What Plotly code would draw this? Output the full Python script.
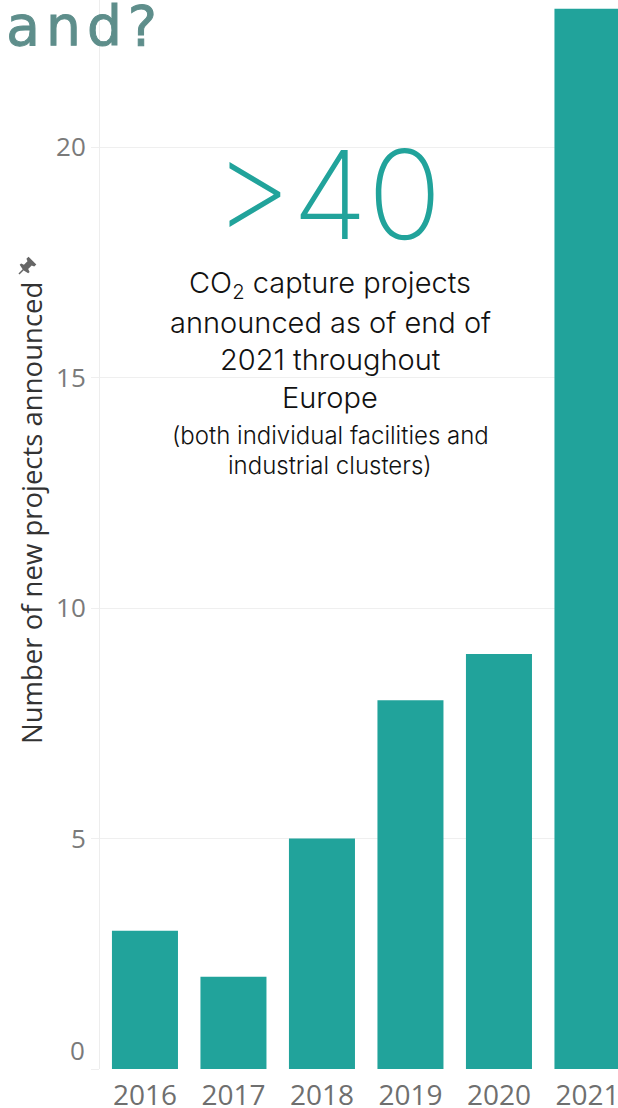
import math
import plotly.graph_objects as go

years = ["2016", "2017", "2018", "2019", "2020", "2021"]
projects = [3, 2, 5, 8, 9, 23]
y_ticks = [0, 5, 10, 15, 20]
y_tick_text = ["", "5", "10", "15", "20"]

W, H = 618, 1108
ML, MB = 100, 39
PLOT_H = H - MB

BAR = "#21A39B"
TEAL_TITLE = "#5E8E8B"

def py(p):
    # pixel y (from top) -> paper y
    return (PLOT_H - p) / PLOT_H

def px(p):
    return (p - ML) / (W - ML)

fig = go.Figure(go.Bar(x=list(range(len(years))), y=projects, marker_color=BAR,
                       marker_line_width=0, width=0.746))

fig.update_layout(
    width=W, height=H,
    margin=dict(l=ML, r=0, t=0, b=MB, pad=0, autoexpand=False),
    plot_bgcolor="white", paper_bgcolor="white",
    showlegend=False,
    font=dict(family="Open Sans", color="#777777"),
    xaxis=dict(range=[-0.508, 5.345], tickvals=list(range(len(years))), ticktext=years,
               showgrid=False, zeroline=False, showline=False, ticks="",
               ticklabelstandoff=7, automargin=False, ticklabeloverflow="allow",
               tickfont=dict(size=28, color="#6f6f6f", family="Open Sans")),
    yaxis=dict(range=[0, 23.19], tickvals=y_ticks, ticktext=y_tick_text,
               showgrid=True, gridcolor="#EFEFEF", gridwidth=1, zeroline=False,
               showline=True, linecolor="#EDEDED", linewidth=1, automargin=False,
               ticks="outside", ticklen=8, tickcolor="#EFEFEF",
               tickfont=dict(size=26, color="#7a7a7a", family="Open Sans")),
)

ann = []
# zero label (drawn slightly above baseline, as in reference)
ann.append(dict(text="0", xref="paper", yref="y", x=0, y=0, xanchor="right", yanchor="middle",
                xshift=-13, yshift=19, showarrow=False,
                font=dict(size=26, color="#7a7a7a", family="Open Sans")))
# cropped page title
title_style = (f"font-family:DejaVu Sans;font-size:55px;letter-spacing:6px;"
               f"stroke:{TEAL_TITLE};stroke-width:1px")
ann.append(dict(text=f'<span style="{title_style}">demand?</span>',
                xref="paper", yref="paper",
                x=px(-136), y=py(0), xanchor="left",
                yanchor="top", yshift=8, showarrow=False,
                font=dict(size=55, color=TEAL_TITLE, family="DejaVu Sans")))
# y-axis title
ann.append(dict(text="Number of new projects announced", xref="paper", yref="paper",
                x=px(31), y=py(513), xanchor="center", yanchor="middle", textangle=-90,
                showarrow=False, font=dict(size=27.5, color="#333333", family="Open Sans", weight=500)))
# big number
ann.append(dict(text="&gt;40", xref="paper", yref="paper", x=px(327), y=py(195),
                xanchor="center", yanchor="middle", showarrow=False,
                font=dict(size=123, color=BAR, family="Inter", weight=200)))
lines = [("CO<sub>2</sub> capture projects", 284, 29),
         ("announced as of end of", 322, 29),
         ("2021 throughout", 359, 29),
         ("Europe", 397, 29),
         ("(both individual facilities and", 435, 24),
         ("industrial clusters)", 465, 24)]
for t, yy, s in lines:
    ann.append(dict(text=t, xref="paper", yref="paper", x=px(330), y=py(yy),
                    xanchor="center", yanchor="middle", showarrow=False,
                    font=dict(size=s, color="#111111", family="Inter", weight=300)))
fig.update_layout(annotations=ann)

# small pushpin icon above the axis title (tip lower-left, head upper-right)
tip = (19.0, 274.0)
ux, uy = 1 / math.sqrt(2), -1 / math.sqrt(2)   # along pin axis
vx, vy = 1 / math.sqrt(2), 1 / math.sqrt(2)    # perpendicular
outline = [(6, 1.3), (7, 6), (9, 6), (10, 3), (15, 3), (16, 5.5), (19, 5.5),
           (19, -5.5), (16, -5.5), (15, -3), (10, -3), (9, -6), (7, -6), (6, -1.3)]
def loc(u, v):
    return (tip[0] + u * ux + v * vx, tip[1] + u * uy + v * vy)
pts = [loc(u, v) for u, v in outline]
path = "M " + " L ".join(f"{px(a)},{py(b)}" for a, b in pts) + " Z"
fig.add_shape(type="path", path=path, xref="paper", yref="paper",
              fillcolor="#666666", line=dict(width=0))
a0 = loc(0, 0)
a1 = loc(7, 0)
fig.add_shape(type="line", xref="paper", yref="paper", x0=px(a0[0]), y0=py(a0[1]),
              x1=px(a1[0]), y1=py(a1[1]), line=dict(color="#666666", width=1.5))

fig.write_html("out.html")
